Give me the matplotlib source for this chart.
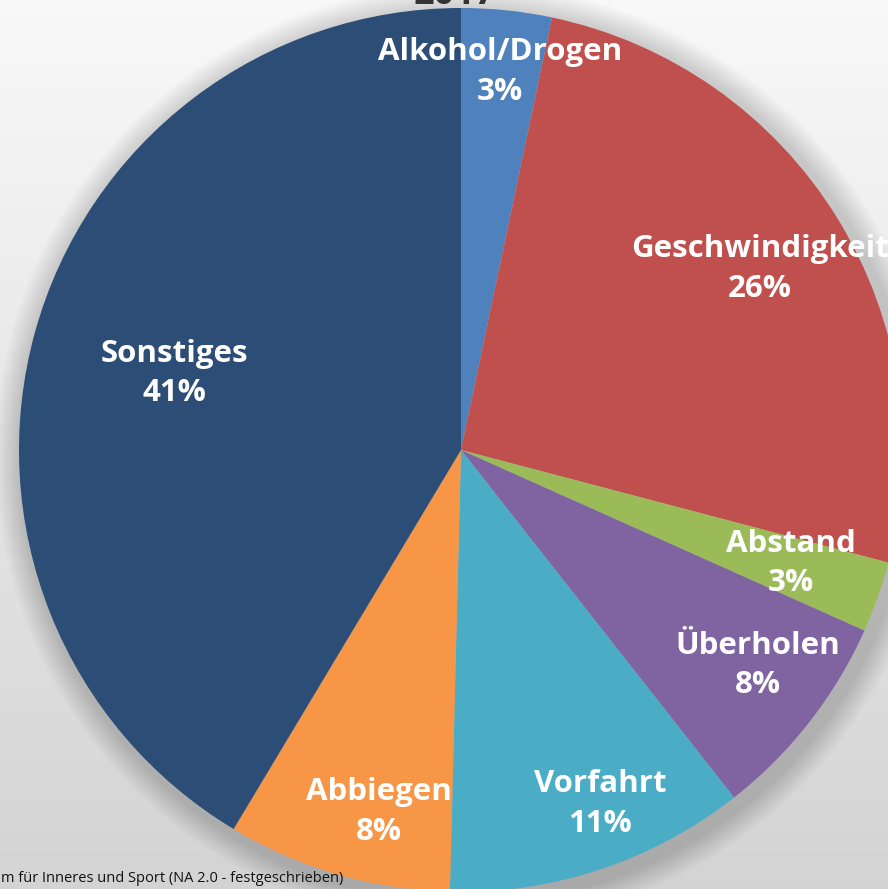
import numpy as np
import matplotlib
matplotlib.use("Agg")
import matplotlib.pyplot as plt
from matplotlib.patches import Circle

categories = ["Alkohol/Drogen", "Geschwindigkeit", "Abstand", "Überholen",
              "Vorfahrt", "Abbiegen", "Sonstiges"]
values = [3.3, 25.8, 2.6, 7.7, 11.0, 8.2, 41.4]
colors = ["#4F81BD", "#C0504D", "#9BBB59", "#8064A2", "#4BACC6", "#F79646", "#2C4D75"]
label_dist = [0.86, 0.79, 0.79, 0.83, 0.86, 0.84, 0.67]
label_turn = [0, -0.5, 0.5, 2.0, 3.1, 3.4, 0.5]
title = "2017"
source = "m für Inneres und Sport (NA 2.0 - festgeschrieben)"

W, H = 888, 889
fig = plt.figure(figsize=(W / 100, H / 100), dpi=100)
ax = fig.add_axes([0, 0, 1, 1])

cx, cy, R = 461, 450, 442
xl = (-cx / R, (W - cx) / R)
yl = (-(H - cy) / R, cy / R)

# background gradient
grad = np.linspace(0, 1, 256).reshape(-1, 1)
top = np.array([0.975, 0.975, 0.975])
bot = np.array([0.83, 0.83, 0.83])
img = top[None, None, :] * (1 - grad[:, :, None]) + bot[None, None, :] * grad[:, :, None]
ax.imshow(img, extent=(xl[0], xl[1], yl[0], yl[1]), aspect="auto", origin="upper", zorder=0)

# soft shadow
for i in range(14):
    r = 1.0 + 0.004 * (14 - i) + 0.01
    ax.add_patch(Circle((0.012, -0.012), r, color="black", alpha=0.012, lw=0, zorder=1))

wedges, _ = ax.pie(values, colors=colors, startangle=90, counterclock=False,
                   radius=1.0, wedgeprops=dict(linewidth=0, zorder=2))
for w in wedges:
    w.set_zorder(2)

fam = ["Open Sans", "DejaVu Sans"]
for w, cat, v, d, t in zip(wedges, categories, values, label_dist, label_turn):
    ang = np.deg2rad((w.theta1 + w.theta2) / 2 + t)
    x, y = d * np.cos(ang), d * np.sin(ang)
    ax.text(x, y, f"{cat}\n{round(v):d}%", ha="center", va="center", color="white",
            fontsize=22.5, fontweight="bold", family=fam, linespacing=1.42, zorder=5)

ax.text(-0.015, (cy - 3.5) / R, title, ha="center", va="baseline", fontsize=26, fontweight="bold",
        color="#333333", family=fam, zorder=5)
ax.text(xl[0] + 0.002, yl[0] + (889 - 879) / R, source, ha="left", va="center", fontsize=10.5,
        color="#111111", family=fam, zorder=5)

ax.set_xlim(*xl)
ax.set_ylim(*yl)
ax.set_aspect("auto")
ax.axis("off")
fig.savefig("out.png", dpi=100)
